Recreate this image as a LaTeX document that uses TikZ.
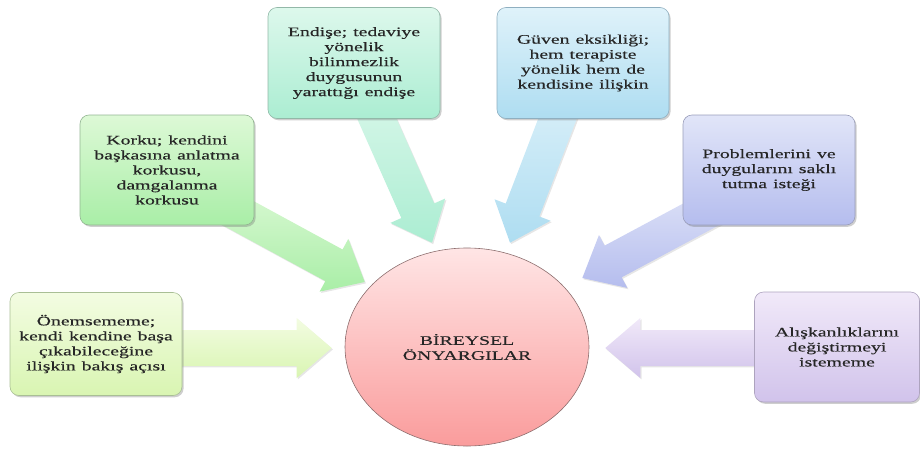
\documentclass[tikz,border=0pt]{standalone}
\usepackage{fontspec}
\setmainfont{Liberation Serif}[FakeStretch=1.52, FakeBold=0.35]
\usetikzlibrary{calc,shapes.geometric,shadows}

% fills: light top / deeper bottom, and a border tone per theme
\definecolor{limeT}{HTML}{F3FCE2}\definecolor{limeB}{HTML}{D9F5B2}\definecolor{limeD}{HTML}{A9BF95}
\definecolor{grnT}{HTML}{DDF9D6}\definecolor{grnB}{HTML}{A9EEA7}\definecolor{grnD}{HTML}{93B592}
\definecolor{mintT}{HTML}{DDF8EC}\definecolor{mintB}{HTML}{ABEDD2}\definecolor{mintD}{HTML}{92B8A8}
\definecolor{skyT}{HTML}{DFF2FA}\definecolor{skyB}{HTML}{AEDDF1}\definecolor{skyD}{HTML}{8FAFC0}
\definecolor{periT}{HTML}{E1E5F8}\definecolor{periB}{HTML}{B5BDEE}\definecolor{periD}{HTML}{9A9EBA}
\definecolor{lilaT}{HTML}{F1E9F9}\definecolor{lilaB}{HTML}{D1C3EB}\definecolor{lilaD}{HTML}{ADA3BE}
\definecolor{roseT}{HTML}{FFE5E5}\definecolor{roseB}{HTML}{FA9C9C}\definecolor{roseD}{HTML}{8C6E6E}

\pgfdeclarelayer{bg}
\pgfsetlayers{bg,main}

% card lettering: 13/15 with slightly open word spacing
\newcommand\cardfont{\fontsize{13}{15}\selectfont\spaceskip 6pt plus 1pt\relax}

\tikzset{
  txt/.style={font=\cardfont, text=black!85, align=center},
  card/.style n args={3}{txt, rounded corners=9pt, draw=#3, line width=0.6pt,
    top color=#1, bottom color=#2,
    drop shadow={shadow xshift=1.6pt, shadow yshift=-1.8pt, opacity=.35, fill=black!55}},
  flow/.style 2 args={top color=#1, bottom color=#2, draw=none,
    drop shadow={shadow xshift=1.2pt, shadow yshift=-1.4pt, opacity=.2, fill=black!50}},
}

% block arrow from #1 to #2: shaft half-width 18, head half-width 30, head length 35
\newcommand\blockarrow[3]{%
  \path coordinate (hb) at ($(#2)!35pt!(#1)$);
  \path[#3] ($(#1)!18pt!90:(#2)$) -- ($(hb)!18pt!90:(#2)$) -- ($(hb)!30pt!90:(#2)$)
    -- (#2) -- ($(hb)!30pt!-90:(#2)$) -- ($(hb)!18pt!-90:(#2)$)
    -- ($(#1)!18pt!-90:(#2)$) -- cycle;
}

\begin{document}
\begin{tikzpicture}[x=1pt,y=-1pt]
\useasboundingbox (0,0) rectangle (920,450);

% surrounding cards
\node[card={limeT}{limeB}{limeD}, minimum width=172pt, minimum height=103pt] (b1) at (96,344)
  {Önemsememe;\\kendi kendine başa\\çıkabileceğine\\ilişkin bakış açısı};
\node[card={grnT}{grnB}{grnD}, minimum width=174pt, minimum height=110pt] (b2) at (167,170)
  {Korku; kendini\\başkasına anlatma\\korkusu,\\damgalanma\\korkusu};
\node[card={mintT}{mintB}{mintD}, minimum width=172pt, minimum height=111pt] (b3) at (354,63)
  {Endişe; tedaviye\\yönelik\\bilinmezlik\\duygusunun\\yarattığı endişe};
\node[card={skyT}{skyB}{skyD}, minimum width=172pt, minimum height=111pt] (b4) at (583,63)
  {Güven eksikliği;\\hem terapiste\\yönelik hem de\\kendisine ilişkin};
\node[card={periT}{periB}{periD}, minimum width=172pt, minimum height=110pt] (b5) at (769,170)
  {Problemlerini ve\\duygularını saklı\\tutma isteği};
\node[card={lilaT}{lilaB}{lilaD}, minimum width=165pt, minimum height=110pt] (b6) at (837,347)
  {Alışkanlıklarını\\değiştirmeyi\\istememe};

% centre
\node[ellipse, txt, draw=roseD, line width=0.6pt, top color=roseT, bottom color=roseB,
  minimum width=244pt, minimum height=198pt] (c) at (467,347) {BİREYSEL\\ÖNYARGILAR};

% arrow ends
\coordinate (s1) at ($(b1.east)+(-20,4)$);        \coordinate (t1) at ($(c.west)+(-13,1)$);
\coordinate (s2) at ($(b2.south east)+(-49,-30)$); \coordinate (t2) at ($(c.west)+(20,-65)$);
\coordinate (s3) at ($(b3.south)+(6,-38)$);        \coordinate (t3) at ($(c.north)+(-35,-5)$);
\coordinate (s4) at ($(b4.south)+(-11,-38)$);      \coordinate (t4) at ($(c.north)+(43,-5)$);
\coordinate (s5) at ($(b5.south west)+(52,-29)$);  \coordinate (t5) at ($(c.east)+(-7,-69)$);
\coordinate (s6) at ($(b6.west)+(20,1)$);          \coordinate (t6) at ($(c.east)+(16,1)$);

\begin{pgfonlayer}{bg}
  \blockarrow{s1}{t1}{flow={limeT}{limeB}}
  \blockarrow{s2}{t2}{flow={grnT}{grnB}}
  \blockarrow{s3}{t3}{flow={mintT}{mintB}}
  \blockarrow{s4}{t4}{flow={skyT}{skyB}}
  \blockarrow{s5}{t5}{flow={periT}{periB}}
  \blockarrow{s6}{t6}{flow={lilaT}{lilaB}}
\end{pgfonlayer}
\end{tikzpicture}
\end{document}
